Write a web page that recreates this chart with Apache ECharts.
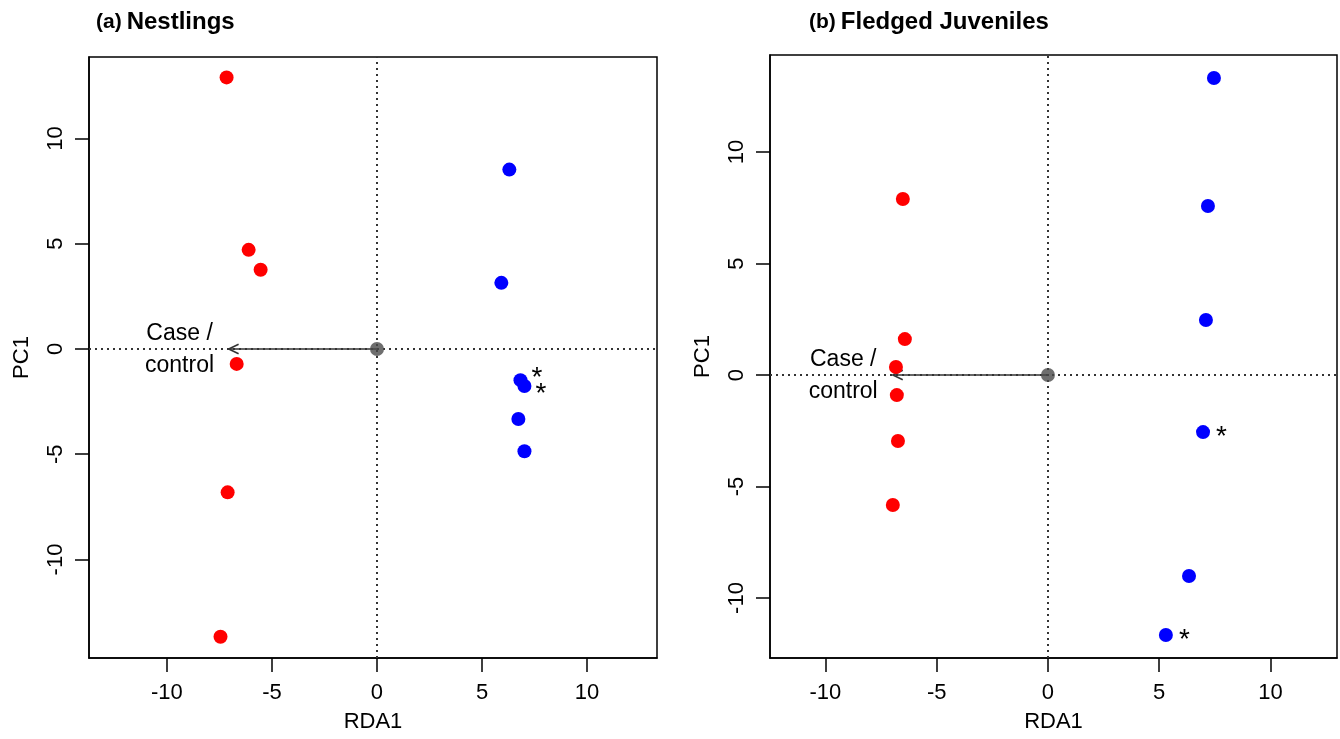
<!DOCTYPE html>
<html>
<head>
<meta charset="utf-8">
<script src="https://cdn.jsdelivr.net/npm/echarts@6/dist/echarts.min.js"></script>
<style>
  html, body { margin: 0; padding: 0; background: #fff; }
  #chart { width: 1340px; height: 739px; }
</style>
</head>
<body>
<div id="chart"></div>
<script>
// ---- Panel (a) Nestlings: RDA1 / PC1 site scores ----
const nestRedRDA1 = [-7.16, -6.11, -5.54, -6.68, -7.11, -7.45];
const nestRedPC1  = [12.90, 4.71, 3.76, -0.71, -6.81, -13.67];
const nestBlueRDA1 = [6.30, 5.92, 6.83, 7.02, 6.73, 7.02];
const nestBluePC1  = [8.52, 3.14, -1.48, -1.76, -3.33, -4.86];
const nestStarred = [2, 3];          // blue points flagged with "*"
const nestArrowTip = [-7.06, 0];     // case/control biplot arrow
const nestArrowLabelAt = [-9.40, 0];

// ---- Panel (b) Fledged Juveniles ----
const fledRedRDA1 = [-6.52, -6.43, -6.83, -6.79, -6.74, -6.97];
const fledRedPC1  = [7.89, 1.61, 0.36, -0.90, -2.96, -5.83];
const fledBlueRDA1 = [7.46, 7.19, 7.10, 6.97, 6.34, 5.30];
const fledBluePC1  = [13.32, 7.58, 2.47, -2.56, -9.01, -11.66];
const fledStarred = [3, 5];
const fledArrowTip = [-6.97, 0];
const fledArrowLabelAt = [-9.20, 0];

const tickValues = [-10, -5, 0, 5, 10];
const arrowLabel = 'Case /\ncontrol';

const FONT = 'Liberation Sans, Arial, sans-serif';
const INK = '#000';
const GUIDE = '#333';

function pairs(xs, ys) { return xs.map((x, i) => [x, ys[i]]); }

function xAxisCfg(gridIndex, min, max) {
  return {
    type: 'value', gridIndex, min, max, name: 'RDA1',
    nameLocation: 'middle', nameGap: 53,
    nameTextStyle: { fontFamily: FONT, fontSize: 22, color: INK },
    splitLine: { show: false },
    axisLine: { show: true, onZero: false, lineStyle: { color: INK, width: 1.5 } },
    axisTick: { show: true, inside: false, length: 14, customValues: tickValues,
                lineStyle: { color: INK, width: 1.5 } },
    axisLabel: { show: true, customValues: tickValues, margin: 24,
                 fontFamily: FONT, fontSize: 22, color: INK }
  };
}
function yAxisCfg(gridIndex, min, max) {
  return {
    type: 'value', gridIndex, min, max, name: 'PC1',
    nameLocation: 'middle', nameGap: 56, nameRotate: 90,
    nameTextStyle: { fontFamily: FONT, fontSize: 22, color: INK },
    splitLine: { show: false },
    axisLine: { show: true, onZero: false, lineStyle: { color: INK, width: 1.5 } },
    axisTick: { show: true, inside: false, length: 14, customValues: tickValues,
                lineStyle: { color: INK, width: 1.5 } },
    axisLabel: { show: true, customValues: tickValues, margin: 22, rotate: 90,
                 fontFamily: FONT, fontSize: 22, color: INK }
  };
}

function zeroLines(i) {
  return {
    type: 'line', xAxisIndex: i, yAxisIndex: i, data: [], silent: true, z: 1,
    markLine: {
      silent: true, symbol: 'none', animation: false,
      label: { show: false },
      lineStyle: { type: [2, 4], color: GUIDE, width: 2 },
      data: [{ xAxis: 0 }, { yAxis: 0 }]
    }
  };
}

function arrowSeries(i, tip) {
  return {
    type: 'custom', xAxisIndex: i, yAxisIndex: i, silent: true, z: 3,
    data: [[0, 0, tip[0], tip[1]]],
    renderItem(params, api) {
      const p0 = api.coord([api.value(0), api.value(1)]);
      const p1 = api.coord([api.value(2), api.value(3)]);
      const ang = Math.atan2(p1[1] - p0[1], p1[0] - p0[0]);
      const L = 11, a = Math.PI / 7;
      const h1 = [p1[0] - L * Math.cos(ang - a), p1[1] - L * Math.sin(ang - a)];
      const h2 = [p1[0] - L * Math.cos(ang + a), p1[1] - L * Math.sin(ang + a)];
      return {
        type: 'group',
        children: [
          { type: 'line', shape: { x1: p0[0], y1: p0[1], x2: p1[0], y2: p1[1] },
            style: { stroke: GUIDE, lineWidth: 1.6 } },
          { type: 'polyline', shape: { points: [h1, p1, h2] },
            style: { stroke: GUIDE, lineWidth: 1.6, fill: null } }
        ]
      };
    }
  };
}

function textSeries(i, at, text) {
  return {
    type: 'custom', xAxisIndex: i, yAxisIndex: i, silent: true, z: 4,
    data: [at],
    renderItem(params, api) {
      const p = api.coord([api.value(0), api.value(1)]);
      return {
        type: 'text', x: p[0], y: p[1] + 1,
        style: { text, fontFamily: FONT, fontSize: 23, lineHeight: 32,
                 align: 'center', verticalAlign: 'middle', fill: INK }
      };
    }
  };
}

function pointSeries(i, xs, ys, color, starred, starOffsets) {
  const data = pairs(xs, ys).map((p, k) => {
    const s = starred.indexOf(k);
    if (s < 0) return { value: p };
    return {
      value: p,
      label: { show: true, formatter: '*', position: 'right', distance: 4,
               offset: starOffsets[s], fontFamily: FONT, fontSize: 28, color: INK }
    };
  });
  return {
    type: 'scatter', xAxisIndex: i, yAxisIndex: i, symbol: 'circle', symbolSize: 14,
    itemStyle: { color, opacity: 1 }, z: 5, silent: true, data
  };
}

function originSeries(i) {
  return {
    type: 'scatter', xAxisIndex: i, yAxisIndex: i, symbol: 'circle', symbolSize: 14,
    itemStyle: { color: '#4a4a4a' }, z: 6, silent: true, data: [[0, 0]]
  };
}

const chart = echarts.init(document.getElementById('chart'), null, { renderer: 'canvas' });

const titleRich = {
  p: { fontFamily: FONT, fontSize: 21, fontWeight: 'bold', color: INK },
  t: { fontFamily: FONT, fontSize: 24, fontWeight: 'bold', color: INK }
};

chart.setOption({
  animation: false,
  backgroundColor: '#fff',
  title: [
    { left: 91, top: 5, text: '{p|(a)} {t|Nestlings}', textStyle: { rich: titleRich } },
    { left: 804, top: 5, text: '{p|(b)} {t|Fledged Juveniles}', textStyle: { rich: titleRich } }
  ],
  grid: [
    { left: 89, top: 57, width: 568, height: 601, show: true, outerBoundsMode: 'none',
      containLabel: false, borderColor: INK, borderWidth: 1.5, backgroundColor: 'transparent' },
    { left: 770, top: 55, width: 567, height: 603, show: true, outerBoundsMode: 'none',
      containLabel: false, borderColor: INK, borderWidth: 1.5, backgroundColor: 'transparent' }
  ],
  xAxis: [ xAxisCfg(0, -13.71, 13.33), xAxisCfg(1, -12.49, 12.99) ],
  yAxis: [ yAxisCfg(0, -14.68, 13.87), yAxisCfg(1, -12.69, 14.35) ],
  series: [
    zeroLines(0),
    arrowSeries(0, nestArrowTip),
    textSeries(0, nestArrowLabelAt, arrowLabel),
    pointSeries(0, nestRedRDA1, nestRedPC1, '#ff0000', [], []),
    pointSeries(0, nestBlueRDA1, nestBluePC1, '#0000ff', nestStarred, [[0, -2], [0, 8]]),
    originSeries(0),

    zeroLines(1),
    arrowSeries(1, fledArrowTip),
    textSeries(1, fledArrowLabelAt, arrowLabel),
    pointSeries(1, fledRedRDA1, fledRedPC1, '#ff0000', [], []),
    pointSeries(1, fledBlueRDA1, fledBluePC1, '#0000ff', fledStarred, [[2, 5], [2, 5]]),
    originSeries(1)
  ]
});
</script>
</body>
</html>
